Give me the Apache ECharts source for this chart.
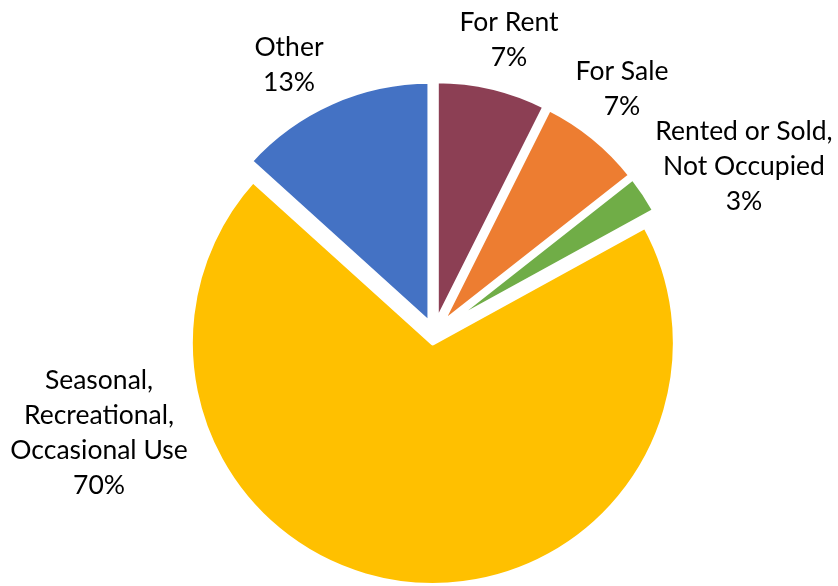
<!DOCTYPE html>
<html>
<head>
<meta charset="utf-8">
<script src="https://cdn.jsdelivr.net/npm/echarts@6/dist/echarts.min.js"></script>
<style>
  html, body { margin: 0; padding: 0; background: #fff; }
  #vacantPie { width: 838px; height: 586px; }
</style>
</head>
<body>
<div id="vacantPie"></div>
<script>
  // slices go clockwise from 12 o'clock
  const categories = ['For Rent', 'For Sale', 'Rented or Sold,\nNot Occupied', 'Seasonal,\nRecreational,\nOccasional Use', 'Other'];
  const shares = [7.4, 7.0, 2.6, 69.7, 13.3];
  const sliceColors = ['#8C3F54', '#ED7D31', '#70AD47', '#FFC000', '#4472C4'];

  // where each data label sits (centre of the text block)
  const labelPos = [[509, 40], [622, 89], [744, 166], [99, 433], [289, 65]];

  let myChart = echarts.init(document.getElementById('vacantPie'));

  let sliceData = [];
  let labelData = [];
  for (var i = 0; i < categories.length; i++) {
    sliceData.push({
      name: categories[i],
      value: shares[i],
      selected: true,
      itemStyle: {color: sliceColors[i]}
    });
    labelData.push({name: categories[i], value: shares[i]});
  }

  let option = {
    animation: false,
    series: [
      {
        // the exploded slices
        type: 'pie',
        center: [434, 333],
        radius: 242.5,
        startAngle: 90,
        clockwise: true,
        selectedMode: 'multiple',
        selectedOffset: 10,
        itemStyle: {
          borderColor: '#ffffff',
          borderWidth: 5
        },
        label: {show: false},
        labelLine: {show: false},
        emphasis: {disabled: true},
        data: sliceData
      },
      {
        // same data again, only for the labels
        type: 'pie',
        center: [434, 333],
        radius: 242.5,
        startAngle: 90,
        clockwise: true,
        percentPrecision: 0,
        silent: true,
        avoidLabelOverlap: false,
        itemStyle: {color: 'rgba(0,0,0,0)'},
        label: {
          show: true,
          position: 'outside',
          overflow: 'none',
          formatter: '{b}\n{d}%',
          fontFamily: 'Lato',
          fontSize: 26.5,
          lineHeight: 35,
          color: '#000000'
        },
        labelLine: {show: false},
        labelLayout: function (params) {
          let p = labelPos[params.dataIndex];
          return {x: p[0], y: p[1], align: 'center', verticalAlign: 'middle'};
        },
        emphasis: {disabled: true},
        data: labelData
      }
    ]
  };
  myChart.setOption(option);
</script>
</body>
</html>
